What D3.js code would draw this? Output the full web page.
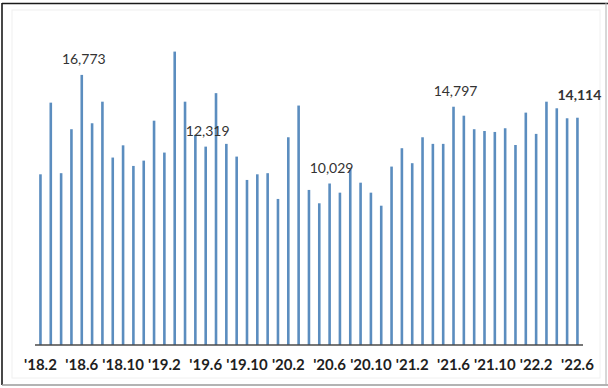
<!DOCTYPE html>
<html>
<head>
<meta charset="utf-8">
<script src="https://cdn.jsdelivr.net/npm/d3@7"></script>
<style>
  html, body { margin: 0; padding: 0; background: #fff; }
  svg { display: block; }
</style>
</head>
<body>
<svg id="chart" width="608" height="388"></svg>
<script>
// Monthly series, Feb 2018 – Jun 2022
const months = [
  "18.2","18.3","18.4","18.5","18.6","18.7","18.8","18.9","18.10","18.11","18.12",
  "19.1","19.2","19.3","19.4","19.5","19.6","19.7","19.8","19.9","19.10","19.11","19.12",
  "20.1","20.2","20.3","20.4","20.5","20.6","20.7","20.8","20.9","20.10","20.11","20.12",
  "21.1","21.2","21.3","21.4","21.5","21.6","21.7","21.8","21.9","21.10","21.11","21.12",
  "22.1","22.2","22.3","22.4","22.5","22.6"
];

const values = [
  10600, 15050, 10670, 13400, 16773, 13770, 15110, 11640, 12400, 11120, 11450,
  13930, 11950, 18220, 15110, 13050, 12319, 15640, 12490, 11700, 10250, 10600, 10670,
  9070, 12900, 14870, 9630, 8800, 10029, 9460, 10900, 10080, 9460, 8650, 11080,
  12220, 11290, 12900, 12490, 12490, 14797, 14240, 13400, 13290, 13230, 13460, 12420,
  14430, 13110, 15110, 14700, 14080, 14114
];

// Months shown on the category axis
const tickMonths = ["18.2","18.6","18.10","19.2","19.6","19.10","20.2","20.6","20.10","21.2","21.6","21.10","22.2","22.6"];

// Months whose value is written above the bar
const labelledMonths = ["18.6","19.6","20.6","21.6","22.6"];
const boldLabelMonths = ["22.6"];

const svg = d3.select("#chart");
const W = 608, H = 388;

// Outer frame: dark top/left edge, grey bottom/right edge
svg.append("rect").attr("x", 0).attr("y", 0).attr("width", W).attr("height", H).attr("fill", "#fff");
svg.append("rect")
  .attr("x", 12).attr("y", 10).attr("width", 588).attr("height", 368)
  .attr("fill", "none").attr("stroke", "#f0f0f0").attr("stroke-width", 1);
svg.append("line").attr("x1", 2).attr("y1", 3.5).attr("x2", W).attr("y2", 3.5)
  .attr("stroke", "#1a1a1a").attr("stroke-width", 1.6);
svg.append("line").attr("x1", 2).attr("y1", 3).attr("x2", 2).attr("y2", 385)
  .attr("stroke", "#1a1a1a").attr("stroke-width", 1.6);
svg.append("line").attr("x1", 2).attr("y1", 385).attr("x2", W).attr("y2", 385)
  .attr("stroke", "#9a9a9a").attr("stroke-width", 1.5);
svg.append("line").attr("x1", 606).attr("y1", 3).attr("x2", 606).attr("y2", 385)
  .attr("stroke", "#b0b0b0").attr("stroke-width", 1);

const baseY = 345;
const x = d3.scaleBand().domain(months).range([35.3, 582.6]).paddingInner(0).paddingOuter(0);
const y = d3.scaleLinear().domain([0, 20000]).range([baseY, baseY - 20000 / 62.1]);

const barW = 2.6;
const data = months.map((m, i) => ({ month: m, value: values[i] }));

svg.append("g")
  .selectAll("rect")
  .data(data)
  .join("rect")
  .attr("x", d => x(d.month) + x.bandwidth() / 2 - barW / 2)
  .attr("y", d => y(d.value))
  .attr("width", barW)
  .attr("height", d => y(0) - y(d.value))
  .attr("fill", "#5b8dbf");

// Category axis
const axis = d3.axisBottom(x)
  .tickValues(tickMonths)
  .tickSize(0)
  .tickPadding(14)
  .tickFormat(d => "'" + d);

const gAxis = svg.append("g")
  .attr("transform", `translate(0,${baseY})`)
  .call(axis);
gAxis.select(".domain")
  .attr("d", "M35,0H583")
  .attr("stroke", "#4a4a4a")
  .attr("stroke-width", 1.6);
gAxis.selectAll("text")
  .attr("font-family", "Lato, 'Open Sans', sans-serif")
  .attr("font-size", 15)
  .attr("font-weight", "bold")
  .attr("fill", "#1f1f1f")
  .attr("dy", "0.71em");

// Value labels
const fmt = d3.format(",");
svg.append("g")
  .selectAll("text")
  .data(data.filter(d => labelledMonths.includes(d.month)))
  .join("text")
  .attr("x", d => x(d.month) + x.bandwidth() / 2 + 2)
  .attr("y", d => y(d.value) - (boldLabelMonths.includes(d.month) ? 18 : 11))
  .attr("text-anchor", "middle")
  .attr("font-family", "Lato, 'Open Sans', sans-serif")
  .attr("font-size", 14)
  .attr("font-weight", d => boldLabelMonths.includes(d.month) ? "bold" : "normal")
  .attr("fill", "#333")
  .text(d => fmt(d.value));
</script>
</body>
</html>
